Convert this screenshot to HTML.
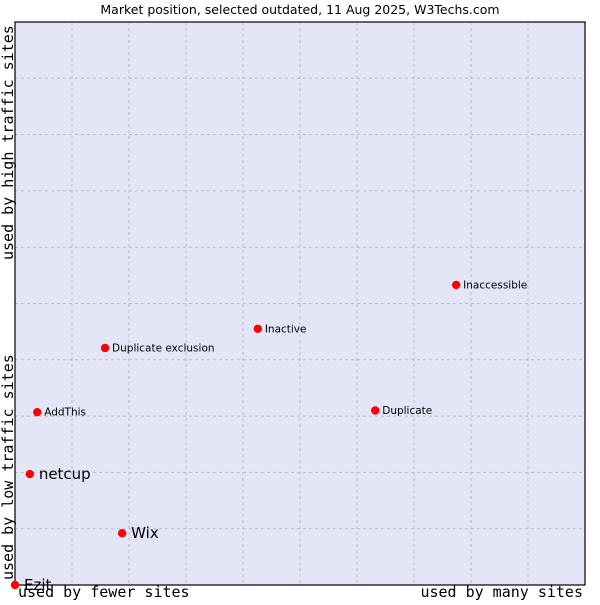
<!DOCTYPE html>
<html><head><meta charset="utf-8"><style>
body{margin:0;background:#fff;width:600px;height:600px;overflow:hidden}
</style></head><body>
<svg width="600" height="600" id="chart" xmlns="http://www.w3.org/2000/svg">
<text x="300" y="14" text-anchor="middle" font-family="DejaVu Sans, sans-serif" font-size="12.5" fill="#000">Market position, selected outdated, 11 Aug 2025, W3Techs.com</text>
<rect x="15" y="22" width="570" height="563" fill="#e4e6f8"/>
<g id="grid"></g>
<rect x="15" y="22" width="570" height="563" fill="none" stroke="#000" stroke-width="1.2"/>
<g id="marks"></g>
<text x="18" y="597" font-family="DejaVu Sans Mono, monospace" font-size="15">used by fewer sites</text>
<text x="583" y="597" text-anchor="end" font-family="DejaVu Sans Mono, monospace" font-size="15">used by many sites</text>
<text transform="translate(13,580) rotate(-90)" font-family="DejaVu Sans Mono, monospace" font-size="15">used by low traffic sites</text>
<text transform="translate(13,260) rotate(-90)" font-family="DejaVu Sans Mono, monospace" font-size="15">used by high traffic sites</text>
</svg>
<script>
const names = ["Ezit","netcup","Wix","AddThis","Duplicate exclusion","Inactive","Duplicate","Inaccessible"];
const xs = [0,2.6,18.8,3.9,15.8,42.6,63.2,77.4];
const ys = [0,19.7,9.2,30.7,42.1,45.5,31.0,53.3];
const big = [true,true,true,false,false,false,false,false];
const NS="http://www.w3.org/2000/svg";
const L=15,T=22,W=570,H=563;
const sx=v=>L+v/100*W, sy=v=>T+H-v/100*H;
const grid=document.getElementById('grid');
for(let i=1;i<10;i++){
  const v=document.createElementNS(NS,'line');
  v.setAttribute('x1',sx(i*10));v.setAttribute('x2',sx(i*10));v.setAttribute('y1',T);v.setAttribute('y2',T+H);
  v.setAttribute('stroke','#bcbcbc');v.setAttribute('stroke-dasharray','3,3');
  
  
  grid.appendChild(v);
  const h=document.createElementNS(NS,'line');
  h.setAttribute('y1',sy(i*10));h.setAttribute('y2',sy(i*10));h.setAttribute('x1',L);h.setAttribute('x2',L+W);
  h.setAttribute('stroke','#bcbcbc');h.setAttribute('stroke-dasharray','3,3');
  
  
  grid.appendChild(h);
}
const marks=document.getElementById('marks');
names.forEach((n,i)=>{
  const x=sx(xs[i]),y=sy(ys[i]);
  const c=document.createElementNS(NS,'circle');
  c.setAttribute('cx',x);c.setAttribute('cy',y);c.setAttribute('r',4.2);c.setAttribute('fill','#ff0000');
  
  
  marks.appendChild(c);
  const t=document.createElementNS(NS,'text');
  t.setAttribute('x',x+(big[i]?9:7));t.setAttribute('y',y+(big[i]?5:3.5));
  t.setAttribute('font-family','DejaVu Sans, sans-serif');
  t.setAttribute('font-size',big[i]?15:10.5);
  t.setAttribute('fill','#000');
  t.textContent=n;
  
  
  marks.appendChild(t);
});
</script>
</body></html>
